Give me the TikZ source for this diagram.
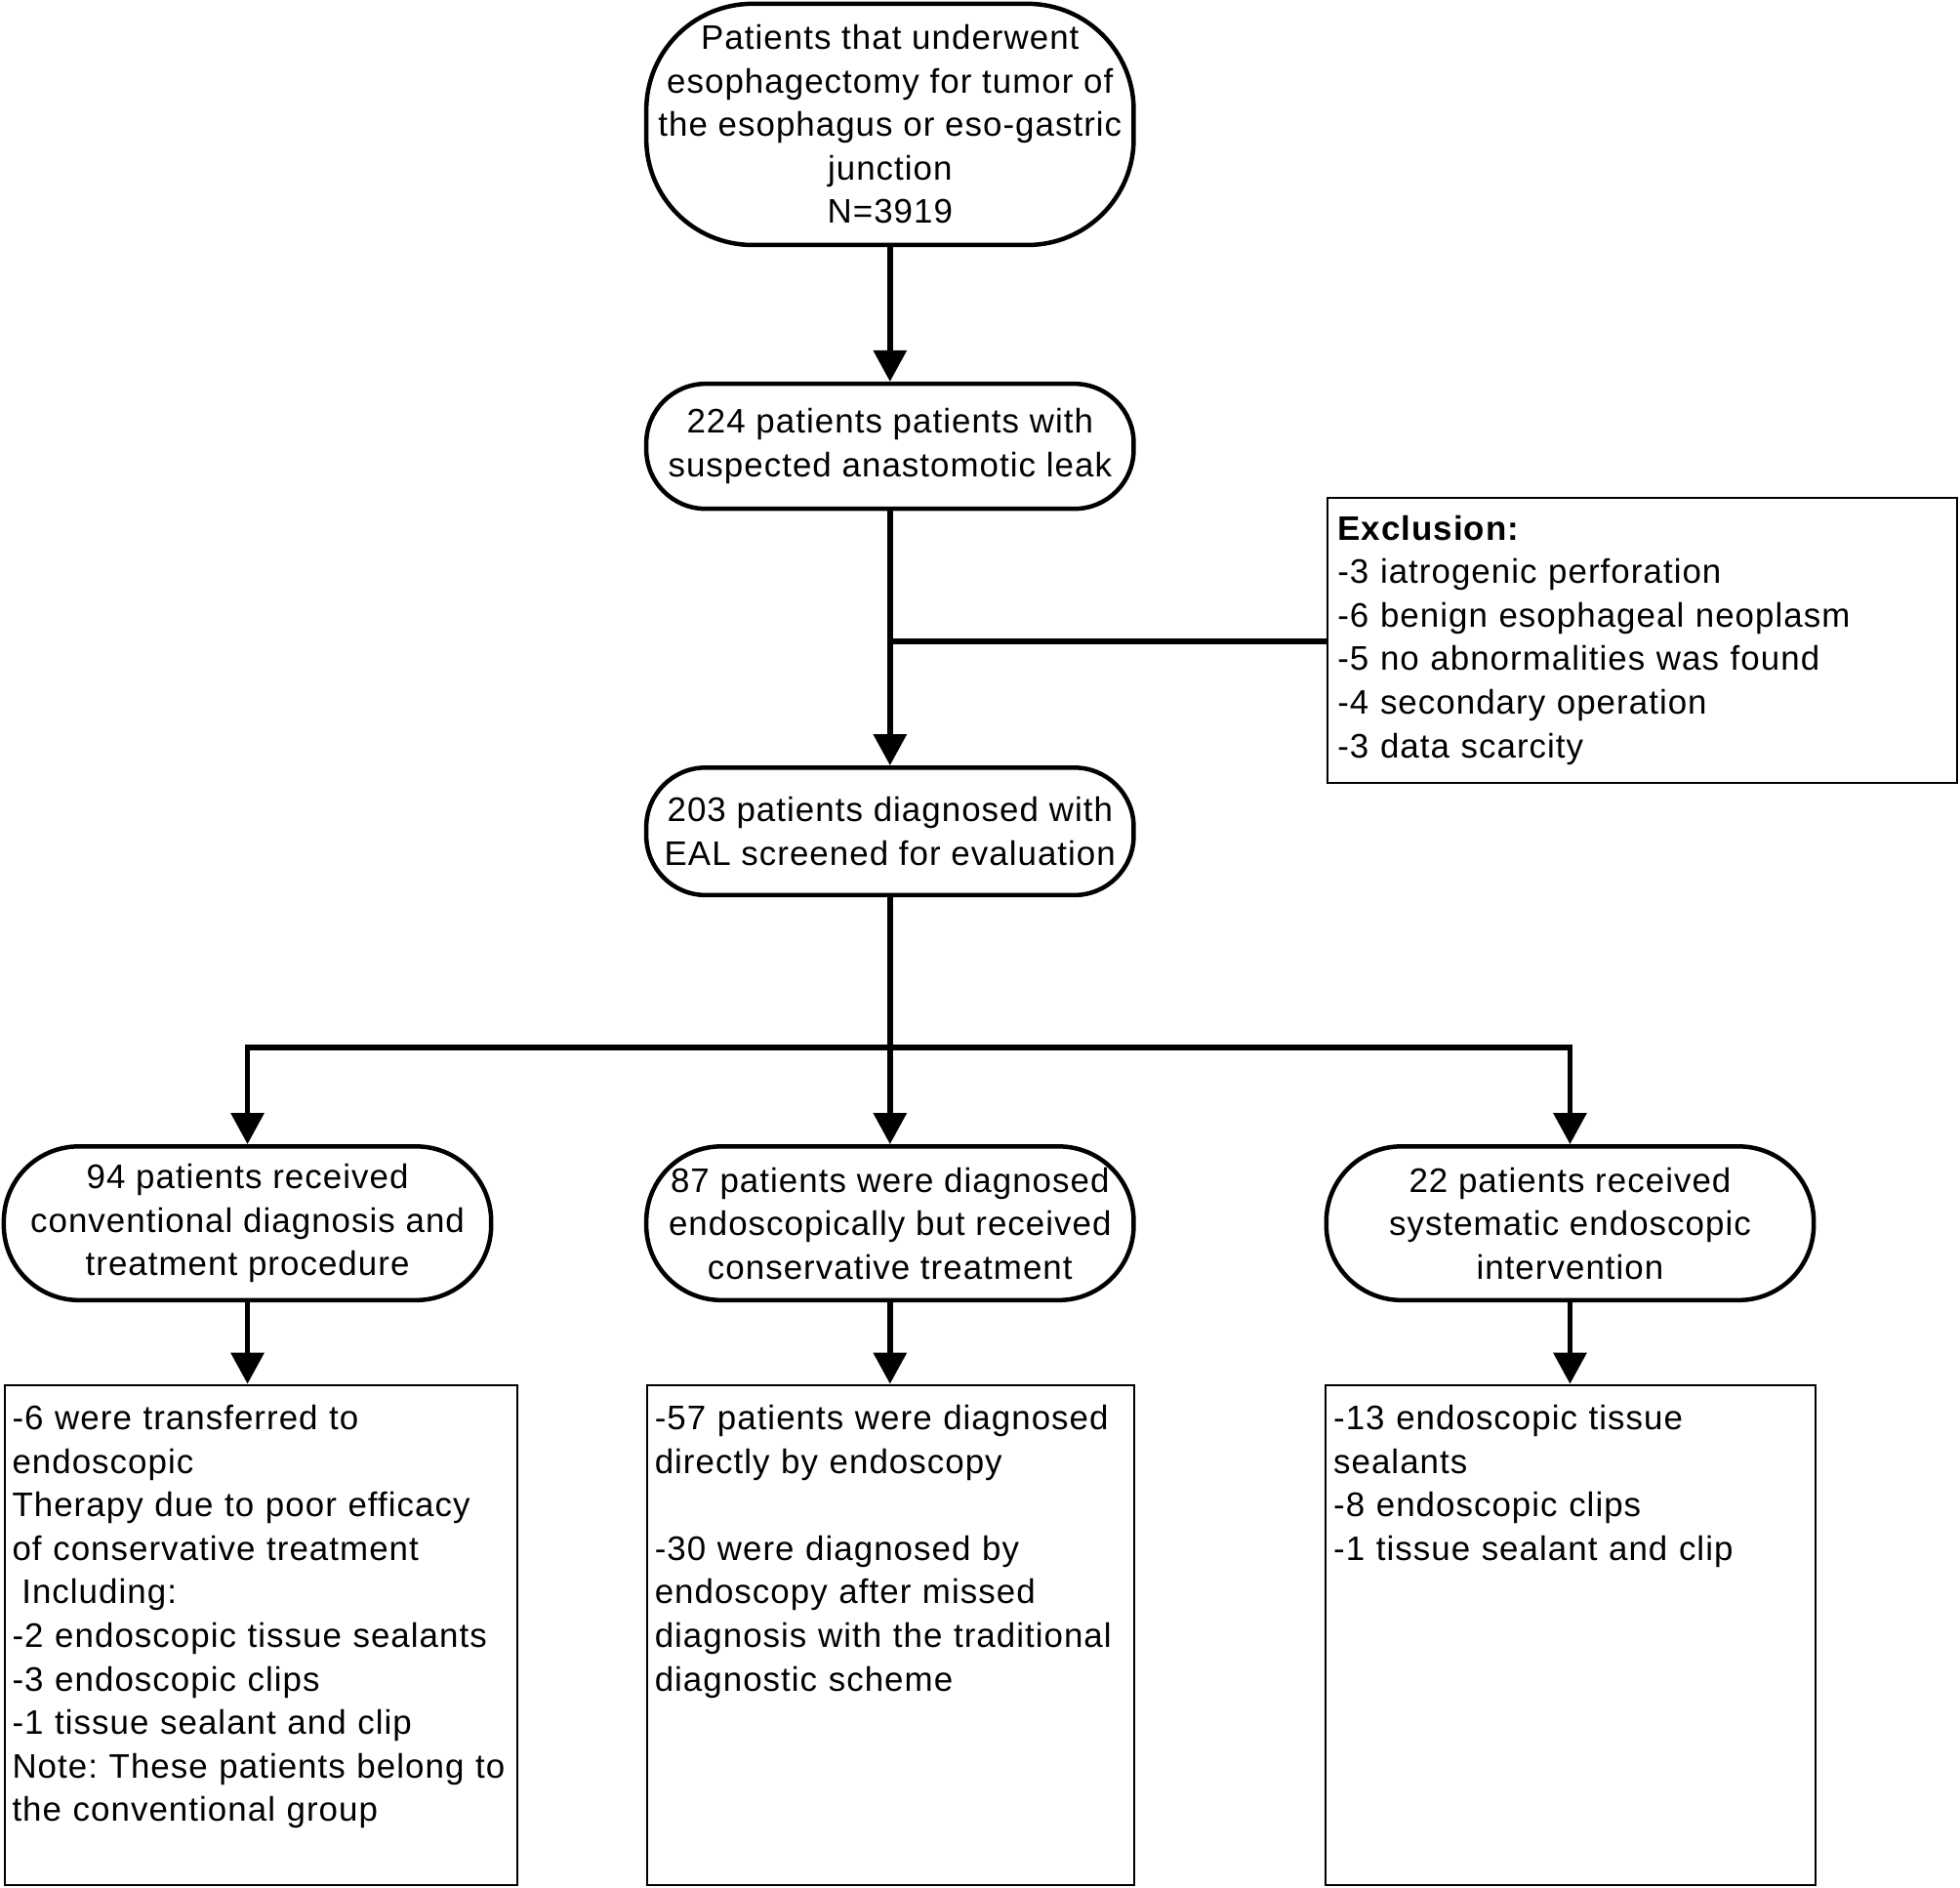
\documentclass[tikz,border=0pt]{standalone}
\usepackage{fontspec}
\setmainfont{Liberation Sans}[LetterSpace=3]
\frenchspacing
\usetikzlibrary{arrows.meta}

\begin{document}
\begin{tikzpicture}[x=0.02cm,y=-0.02cm,
          every node/.style={font=\fontsize{15.5pt}{19.8pt}\selectfont},
          term/.style={draw,line width=2pt,align=center,minimum width=7.8cm,inner sep=0pt},
          box/.style={draw,line width=0.9pt,align=left,inner xsep=0.12cm,inner ysep=0pt,anchor=north west,
            text height=0.72cm,text depth=7.28cm},
          link/.style={line width=2.4pt},
          arr/.style={link,-{Triangle[width=0.52cm,length=0.5cm]}}
          ]
          \useasboundingbox (0,0) rectangle (1568,1510);
          \node[term,minimum height=3.86cm,rounded corners=1.7cm] (pop) at (712,99.5)
            {Patients that underwent\\esophagectomy for tumor of\\the esophagus or eso-gastric\\junction\\N=3919};
          \node[term,minimum height=2cm,rounded corners=0.95cm] (susp) at (712,357)
            {224 patients patients with\\suspected anastomotic leak};
          \node[term,minimum height=2.04cm,rounded corners=0.95cm] (eal) at (712,665)
            {203 patients diagnosed with\\EAL screened for evaluation};
          \node[draw,line width=0.9pt,align=left,text width=9.76cm,minimum height=4.56cm,inner xsep=0.16cm] (excl) at (1314,512)
            {\textbf{Exclusion:}\\-3 iatrogenic perforation\\-6 benign esophageal neoplasm\\-5 no abnormalities was found\\-4 secondary operation\\-3 data scarcity};
          \node[term,minimum height=2.46cm,rounded corners=1.2cm] (conv) at (198,978.5)
            {94 patients received\\conventional diagnosis and\\treatment procedure};
          \node[term,minimum height=2.46cm,rounded corners=1.2cm] (cons) at (712,978.5)
            {87 patients were diagnosed\\endoscopically but received\\conservative treatment};
          \node[term,minimum height=2.46cm,rounded corners=1.2cm] (endo) at (1256,978.5)
            {22 patients received\\systematic endoscopic\\intervention};
          \node[box,text width=7.96cm] (convd) at (3,1107)
            {-6 were transferred to\\endoscopic\\Therapy due to poor efficacy\\of conservative treatment\\\hspace*{0.28em}Including:\\-2 endoscopic tissue sealants\\-3 endoscopic clips\\-1 tissue sealant and clip\\Note: These patients belong to\\the conventional group};
          \node[box,text width=7.56cm] (consd) at (517,1107)
            {-57 patients were diagnosed\\directly by endoscopy\\[19.8pt]-30 were diagnosed by\\endoscopy after missed\\diagnosis with the traditional\\diagnostic scheme};
          \node[box,text width=7.6cm] (endod) at (1060,1107)
            {-13 endoscopic tissue\\sealants\\-8 endoscopic clips\\-1 tissue sealant and clip};
          \coordinate (br) at (712,513);
          \coordinate (split) at (712,838);
          \draw[arr] (pop) -- (susp);
          \draw[arr] (susp) -- (eal);
          \draw[link] (br) -- (br -| excl.west);
          \draw[link] (eal) -- (split);
          \draw[arr] (split) -| (conv.north);
          \draw[arr] (split) -- (cons);
          \draw[arr] (split) -| (endo.north);
          \draw[arr] (conv.south) -- (conv.south |- convd.north);
          \draw[arr] (cons.south) -- (cons.south |- consd.north);
          \draw[arr] (endo.south) -- (endo.south |- endod.north);
        \end{tikzpicture}
\end{document}
